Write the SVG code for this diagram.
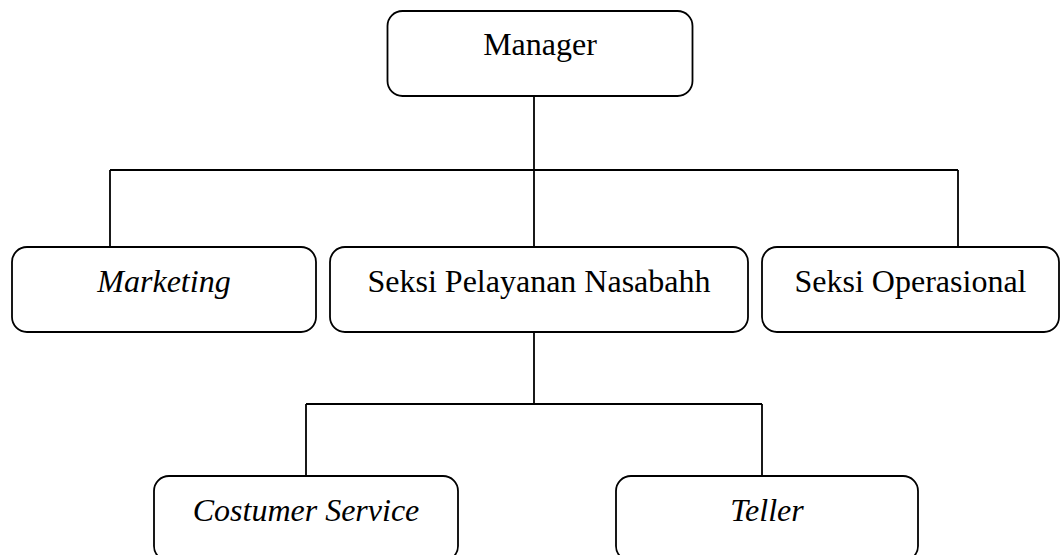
<svg xmlns="http://www.w3.org/2000/svg" width="1061" height="555" viewBox="0 0 1061 555">
<style>
.box{fill:#fff;stroke:#000;stroke-width:1.8}
.lbl{font-family:"Liberation Serif","Times New Roman",serif;font-size:32px;fill:#000;text-anchor:middle}
.it{font-style:italic}
.con{stroke:#000;stroke-width:1.8;fill:none}
</style>
<rect width="1061" height="555" fill="#fff"/>
<g id="connectors">
<line class="con" x1="534" y1="96" x2="534" y2="247"/>
<line class="con" x1="110" y1="170" x2="958" y2="170"/>
<line class="con" x1="110" y1="170" x2="110" y2="247"/>
<line class="con" x1="958" y1="170" x2="958" y2="247"/>
<line class="con" x1="534" y1="332" x2="534" y2="404"/>
<line class="con" x1="306" y1="404" x2="762" y2="404"/>
<line class="con" x1="306" y1="404" x2="306" y2="476"/>
<line class="con" x1="762" y1="404" x2="762" y2="476"/>
</g>
<g id="manager">
<rect class="box" x="387.5" y="11" width="305" height="85" rx="15"/>
<text class="lbl" x="540" y="55">Manager</text>
</g>
<g id="marketing">
<rect class="box" x="12" y="247" width="304" height="85" rx="15"/>
<text class="lbl it" x="164" y="292">Marketing</text>
</g>
<g id="seksi-pelayanan">
<rect class="box" x="330" y="247" width="418" height="85" rx="15"/>
<text class="lbl" x="539" y="292">Seksi Pelayanan Nasabahh</text>
</g>
<g id="seksi-operasional">
<rect class="box" x="762" y="247" width="297" height="85" rx="15"/>
<text class="lbl" x="910.5" y="292">Seksi Operasional</text>
</g>
<g id="costumer-service">
<rect class="box" x="154" y="476" width="304" height="85" rx="15"/>
<text class="lbl it" x="306" y="521">Costumer Service</text>
</g>
<g id="teller">
<rect class="box" x="616" y="476" width="302" height="85" rx="15"/>
<text class="lbl it" x="767" y="521">Teller</text>
</g>
</svg>
